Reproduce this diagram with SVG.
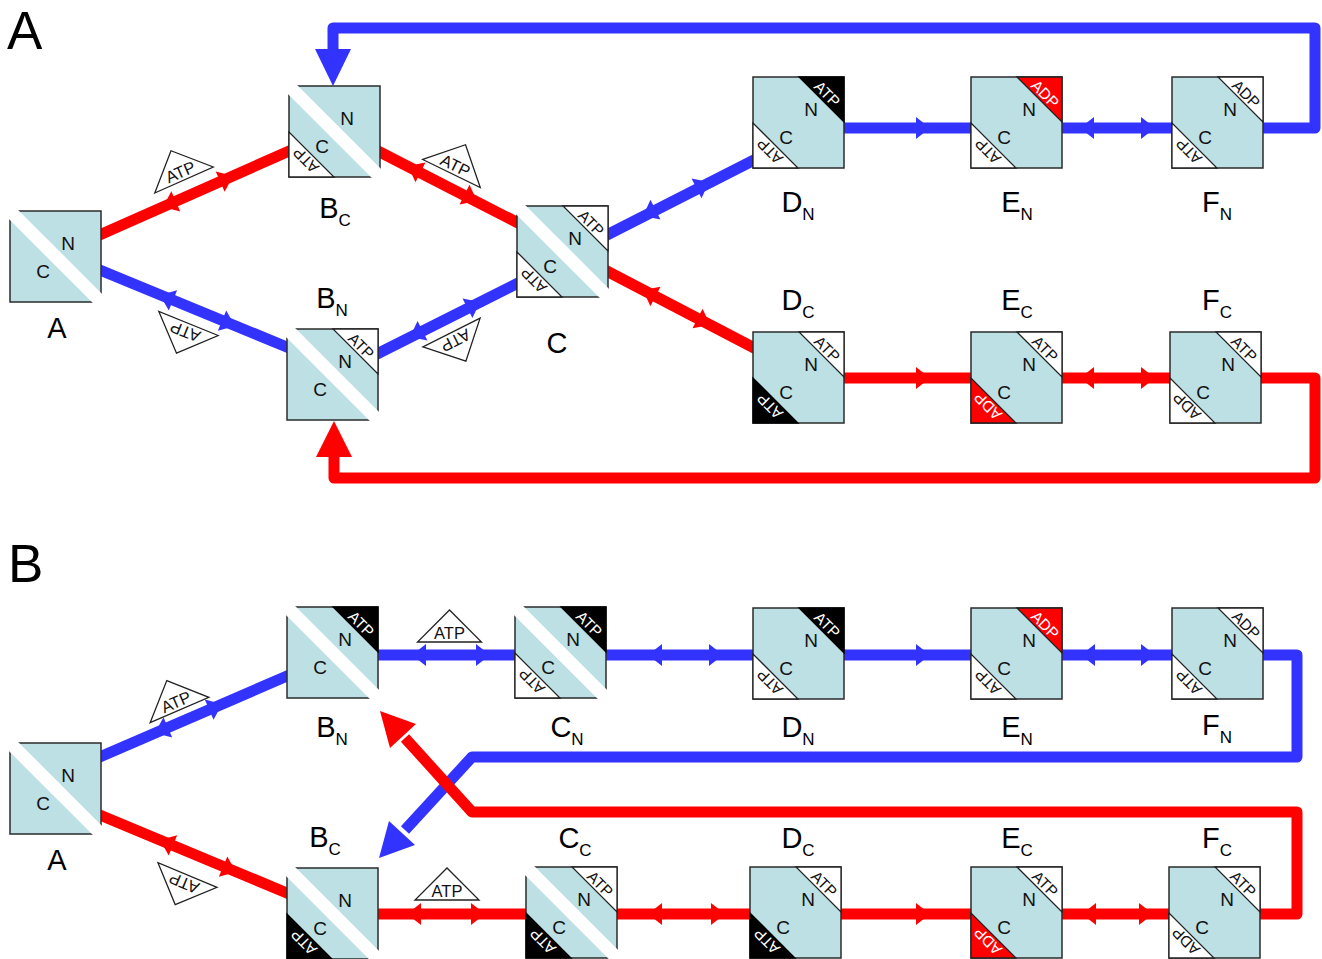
<svg xmlns="http://www.w3.org/2000/svg" xmlns:xlink="http://www.w3.org/1999/xlink" width="1322" height="959" viewBox="0 0 1322 959">
<style>
text{font-family:"Liberation Sans",Arial,sans-serif}
.sq{fill:#bde0e4;stroke:#2b2b2b;stroke-width:1.5}
.stripe{stroke:#fff;stroke-width:13}
.cw{fill:#fff;stroke:#222;stroke-width:1.3}
.ck{fill:#000;stroke:#000;stroke-width:1.3}
.cr{fill:#ff0000;stroke:#222;stroke-width:1.3}
.nl{font-size:19px;text-anchor:middle;fill:#111}
.ct{font-size:15.5px;text-anchor:middle;fill:#111}
.ctw{font-size:15.5px;text-anchor:middle;fill:#fff}
.lbl{font-size:29px;text-anchor:middle;fill:#000}
.sub{font-size:17px}
.pl{font-size:53px;fill:#000}
.bl{stroke:#3333ff;fill:none;stroke-width:11;stroke-linejoin:round}
.rd{stroke:#ff0000;fill:none;stroke-width:11;stroke-linejoin:round}
.bf{fill:#3333ff}
.rf{fill:#ff0000}
.tri{fill:#fff;stroke:#222;stroke-width:1.3}
.tt{font-size:16.5px;text-anchor:middle;fill:#111}
</style>
<defs>
<rect id="sq" class="sq" x="0" y="0" width="91" height="91"/>
<line id="stripe" class="stripe" x1="-2" y1="-2" x2="93" y2="93"/>
<polygon id="urW" class="cw" points="46,0 91,0 91,45"/>
<polygon id="urK" class="ck" points="46,0 91,0 91,45"/>
<polygon id="urR" class="cr" points="46,0 91,0 91,45"/>
<polygon id="llW" class="cw" points="0,46 0,91 45,91"/>
<polygon id="llK" class="ck" points="0,46 0,91 45,91"/>
<polygon id="llR" class="cr" points="0,46 0,91 45,91"/>
<polygon id="ah" points="0,0 -14,-11 -14,11"/>
<polygon id="tri" class="tri" points="-32,0 32,0 0,-32"/>
</defs>

<text class="pl" x="7" y="49">A</text>
<text class="pl" x="8" y="582">B</text>

<g id="connectors">
<!-- Panel A -->
<line class="rd" x1="95" y1="237" x2="296" y2="148"/>
<line class="bl" x1="95" y1="268" x2="294" y2="350"/>
<line class="rd" x1="372" y1="148" x2="524" y2="226"/>
<line class="bl" x1="371" y1="357" x2="524" y2="280"/>
<line class="bl" x1="601" y1="238" x2="760" y2="157"/>
<line class="rd" x1="601" y1="268" x2="760" y2="351"/>
<line class="bl" x1="840" y1="128" x2="975" y2="128"/>
<line class="bl" x1="1058" y1="128" x2="1176" y2="128"/>
<line class="rd" x1="840" y1="378" x2="975" y2="378"/>
<line class="rd" x1="1058" y1="378" x2="1174" y2="378"/>
<path class="bl" d="M1258,128 H1315 V28 H333 V54"/>
<polygon class="bf" points="315,49 351,49 333,86"/>
<path class="rd" d="M1257,378 H1315 V478 H334 V454"/>
<polygon class="rf" points="316,457 352,457 334,421"/>
<!-- Panel B -->
<line class="bl" x1="95" y1="759" x2="294" y2="673"/>
<line class="rd" x1="95" y1="813" x2="294" y2="896"/>
<line class="bl" x1="375" y1="655" x2="519" y2="655"/>
<line class="bl" x1="603" y1="655" x2="757" y2="655"/>
<line class="bl" x1="840" y1="655" x2="975" y2="655"/>
<line class="bl" x1="1058" y1="655" x2="1176" y2="655"/>
<line class="rd" x1="375" y1="914" x2="530" y2="914"/>
<line class="rd" x1="613" y1="914" x2="754" y2="914"/>
<line class="rd" x1="838" y1="914" x2="975" y2="914"/>
<line class="rd" x1="1058" y1="914" x2="1173" y2="914"/>
<path class="bl" d="M1258,655 H1297 V757 H472 L405,830"/>
<polygon class="bf" points="379,858 415,845 389,821"/>
<path class="rd" d="M1255,914 H1297 V812 H472 L405,738"/>
<polygon class="rf" points="380,711 416,724 390,748"/>
<!-- small arrowheads -->
<use xlink:href="#ah" class="rf" transform="translate(163,207) rotate(156.1)"/>
<use xlink:href="#ah" class="rf" transform="translate(233,176) rotate(-23.9)"/>
<use xlink:href="#ah" class="bf" transform="translate(160,295) rotate(202.3)"/>
<use xlink:href="#ah" class="bf" transform="translate(235,326) rotate(22.3)"/>
<use xlink:href="#ah" class="rf" transform="translate(408,166) rotate(206.9)"/>
<use xlink:href="#ah" class="rf" transform="translate(477,201) rotate(26.9)"/>
<use xlink:href="#ah" class="bf" transform="translate(410,337) rotate(153.3)"/>
<use xlink:href="#ah" class="bf" transform="translate(480,302) rotate(-26.7)"/>
<use xlink:href="#ah" class="bf" transform="translate(643,216) rotate(153)"/>
<use xlink:href="#ah" class="bf" transform="translate(709,182) rotate(-27)"/>
<use xlink:href="#ah" class="rf" transform="translate(643,290) rotate(207.3)"/>
<use xlink:href="#ah" class="rf" transform="translate(710,325) rotate(27.3)"/>
<use xlink:href="#ah" class="bf" transform="translate(930,128)"/>
<use xlink:href="#ah" class="bf" transform="translate(1080,128) rotate(180)"/>
<use xlink:href="#ah" class="bf" transform="translate(1155,128)"/>
<use xlink:href="#ah" class="rf" transform="translate(930,378)"/>
<use xlink:href="#ah" class="rf" transform="translate(1080,378) rotate(180)"/>
<use xlink:href="#ah" class="rf" transform="translate(1155,378)"/>
<use xlink:href="#ah" class="bf" transform="translate(155,733) rotate(156.6)"/>
<use xlink:href="#ah" class="bf" transform="translate(222,704) rotate(-23.4)"/>
<use xlink:href="#ah" class="rf" transform="translate(160,840) rotate(202.6)"/>
<use xlink:href="#ah" class="rf" transform="translate(236,872) rotate(22.6)"/>
<use xlink:href="#ah" class="bf" transform="translate(412,655) rotate(180)"/>
<use xlink:href="#ah" class="bf" transform="translate(490,655)"/>
<use xlink:href="#ah" class="bf" transform="translate(648,655) rotate(180)"/>
<use xlink:href="#ah" class="bf" transform="translate(723,655)"/>
<use xlink:href="#ah" class="bf" transform="translate(930,655)"/>
<use xlink:href="#ah" class="bf" transform="translate(1081,655) rotate(180)"/>
<use xlink:href="#ah" class="bf" transform="translate(1155,655)"/>
<use xlink:href="#ah" class="rf" transform="translate(407,914) rotate(180)"/>
<use xlink:href="#ah" class="rf" transform="translate(485,914)"/>
<use xlink:href="#ah" class="rf" transform="translate(648,914) rotate(180)"/>
<use xlink:href="#ah" class="rf" transform="translate(725,914)"/>
<use xlink:href="#ah" class="rf" transform="translate(930,914)"/>
<use xlink:href="#ah" class="rf" transform="translate(1082,914) rotate(180)"/>
<use xlink:href="#ah" class="rf" transform="translate(1153,914)"/>
</g>

<g id="connector-labels">
<g transform="translate(184,180) rotate(-24)"><use xlink:href="#tri"/><text class="tt" x="0" y="-3">ATP</text></g>
<g transform="translate(451.5,173.5) rotate(26)"><use xlink:href="#tri"/><text class="tt" x="0" y="-3">ATP</text></g>
<g transform="translate(188.5,323.5) rotate(202)"><use xlink:href="#tri"/><text class="tt" x="0" y="-3">ATP</text></g>
<g transform="translate(451.5,332.5) rotate(153.3)"><use xlink:href="#tri"/><text class="tt" x="0" y="-3">ATP</text></g>
<g transform="translate(179.5,710) rotate(-23.4)"><use xlink:href="#tri"/><text class="tt" x="0" y="-3">ATP</text></g>
<g transform="translate(187.5,875) rotate(202.6)"><use xlink:href="#tri"/><text class="tt" x="0" y="-3">ATP</text></g>
<g transform="translate(449.5,642)"><use xlink:href="#tri"/><text class="tt" x="0" y="-3">ATP</text></g>
<g transform="translate(447,900)"><use xlink:href="#tri"/><text class="tt" x="0" y="-3">ATP</text></g>
</g>

<!-- Panel A nodes -->
<g id="a-A" transform="translate(10,211)">
<use xlink:href="#sq"/><use xlink:href="#stripe"/>
<text class="nl" x="58" y="39">N</text><text class="nl" x="33" y="67">C</text>
</g>
<g id="a-BC" transform="translate(289,86)">
<use xlink:href="#sq"/><use xlink:href="#llW"/><use xlink:href="#stripe"/>
<text class="ct" transform="translate(16.8,74.2) rotate(225)" y="5.5">ATP</text>
<text class="nl" x="58" y="39">N</text><text class="nl" x="33" y="67">C</text>
</g>
<g id="a-BN" transform="translate(287,329)">
<use xlink:href="#sq"/><use xlink:href="#urW"/><use xlink:href="#stripe"/>
<text class="ct" transform="translate(74.2,16.8) rotate(45)" y="5.5">ATP</text>
<text class="nl" x="58" y="39">N</text><text class="nl" x="33" y="67">C</text>
</g>
<g id="a-C" transform="translate(517,206)">
<use xlink:href="#sq"/><use xlink:href="#urW"/><use xlink:href="#llW"/><use xlink:href="#stripe"/>
<text class="ct" transform="translate(74.2,16.8) rotate(45)" y="5.5">ATP</text>
<text class="ct" transform="translate(16.8,74.2) rotate(225)" y="5.5">ATP</text>
<text class="nl" x="58" y="39">N</text><text class="nl" x="33" y="67">C</text>
</g>
<g id="a-DN" transform="translate(753,77)">
<use xlink:href="#sq"/><use xlink:href="#urK"/><use xlink:href="#llW"/>
<text class="ctw" transform="translate(74.2,16.8) rotate(45)" y="5.5">ATP</text>
<text class="ct" transform="translate(16.8,74.2) rotate(225)" y="5.5">ATP</text>
<text class="nl" x="58" y="39">N</text><text class="nl" x="33" y="67">C</text>
</g>
<g id="a-EN" transform="translate(971,77)">
<use xlink:href="#sq"/><use xlink:href="#urR"/><use xlink:href="#llW"/>
<text class="ctw" transform="translate(74.2,16.8) rotate(45)" y="5.5">ADP</text>
<text class="ct" transform="translate(16.8,74.2) rotate(225)" y="5.5">ATP</text>
<text class="nl" x="58" y="39">N</text><text class="nl" x="33" y="67">C</text>
</g>
<g id="a-FN" transform="translate(1172,77)">
<use xlink:href="#sq"/><use xlink:href="#urW"/><use xlink:href="#llW"/>
<text class="ct" transform="translate(74.2,16.8) rotate(45)" y="5.5">ADP</text>
<text class="ct" transform="translate(16.8,74.2) rotate(225)" y="5.5">ATP</text>
<text class="nl" x="58" y="39">N</text><text class="nl" x="33" y="67">C</text>
</g>
<g id="a-DC" transform="translate(753,332)">
<use xlink:href="#sq"/><use xlink:href="#urW"/><use xlink:href="#llK"/>
<text class="ct" transform="translate(74.2,16.8) rotate(45)" y="5.5">ATP</text>
<text class="ctw" transform="translate(16.8,74.2) rotate(225)" y="5.5">ATP</text>
<text class="nl" x="58" y="39">N</text><text class="nl" x="33" y="67">C</text>
</g>
<g id="a-EC" transform="translate(971,332)">
<use xlink:href="#sq"/><use xlink:href="#urW"/><use xlink:href="#llR"/>
<text class="ct" transform="translate(74.2,16.8) rotate(45)" y="5.5">ATP</text>
<text class="ctw" transform="translate(16.8,74.2) rotate(225)" y="5.5">ADP</text>
<text class="nl" x="58" y="39">N</text><text class="nl" x="33" y="67">C</text>
</g>
<g id="a-FC" transform="translate(1170,332)">
<use xlink:href="#sq"/><use xlink:href="#urW"/><use xlink:href="#llW"/>
<text class="ct" transform="translate(74.2,16.8) rotate(45)" y="5.5">ATP</text>
<text class="ct" transform="translate(16.8,74.2) rotate(225)" y="5.5">ADP</text>
<text class="nl" x="58" y="39">N</text><text class="nl" x="33" y="67">C</text>
</g>

<!-- Panel B nodes -->
<g id="b-A" transform="translate(10,743)">
<use xlink:href="#sq"/><use xlink:href="#stripe"/>
<text class="nl" x="58" y="39">N</text><text class="nl" x="33" y="67">C</text>
</g>
<g id="b-BN" transform="translate(287,607)">
<use xlink:href="#sq"/><use xlink:href="#urK"/><use xlink:href="#stripe"/>
<text class="ctw" transform="translate(74.2,16.8) rotate(45)" y="5.5">ATP</text>
<text class="nl" x="58" y="39">N</text><text class="nl" x="33" y="67">C</text>
</g>
<g id="b-BC" transform="translate(287,868)">
<use xlink:href="#sq"/><use xlink:href="#llK"/><use xlink:href="#stripe"/>
<text class="ctw" transform="translate(16.8,74.2) rotate(225)" y="5.5">ATP</text>
<text class="nl" x="58" y="39">N</text><text class="nl" x="33" y="67">C</text>
</g>
<g id="b-CN" transform="translate(515,607)">
<use xlink:href="#sq"/><use xlink:href="#urK"/><use xlink:href="#llW"/><use xlink:href="#stripe"/>
<text class="ctw" transform="translate(74.2,16.8) rotate(45)" y="5.5">ATP</text>
<text class="ct" transform="translate(16.8,74.2) rotate(225)" y="5.5">ATP</text>
<text class="nl" x="58" y="39">N</text><text class="nl" x="33" y="67">C</text>
</g>
<g id="b-DN" transform="translate(753,608)">
<use xlink:href="#sq"/><use xlink:href="#urK"/><use xlink:href="#llW"/>
<text class="ctw" transform="translate(74.2,16.8) rotate(45)" y="5.5">ATP</text>
<text class="ct" transform="translate(16.8,74.2) rotate(225)" y="5.5">ATP</text>
<text class="nl" x="58" y="39">N</text><text class="nl" x="33" y="67">C</text>
</g>
<g id="b-EN" transform="translate(971,608)">
<use xlink:href="#sq"/><use xlink:href="#urR"/><use xlink:href="#llW"/>
<text class="ctw" transform="translate(74.2,16.8) rotate(45)" y="5.5">ADP</text>
<text class="ct" transform="translate(16.8,74.2) rotate(225)" y="5.5">ATP</text>
<text class="nl" x="58" y="39">N</text><text class="nl" x="33" y="67">C</text>
</g>
<g id="b-FN" transform="translate(1172,608)">
<use xlink:href="#sq"/><use xlink:href="#urW"/><use xlink:href="#llW"/>
<text class="ct" transform="translate(74.2,16.8) rotate(45)" y="5.5">ADP</text>
<text class="ct" transform="translate(16.8,74.2) rotate(225)" y="5.5">ATP</text>
<text class="nl" x="58" y="39">N</text><text class="nl" x="33" y="67">C</text>
</g>
<g id="b-CC" transform="translate(526,867)">
<use xlink:href="#sq"/><use xlink:href="#urW"/><use xlink:href="#llK"/><use xlink:href="#stripe"/>
<text class="ct" transform="translate(74.2,16.8) rotate(45)" y="5.5">ATP</text>
<text class="ctw" transform="translate(16.8,74.2) rotate(225)" y="5.5">ATP</text>
<text class="nl" x="58" y="39">N</text><text class="nl" x="33" y="67">C</text>
</g>
<g id="b-DC" transform="translate(750,867)">
<use xlink:href="#sq"/><use xlink:href="#urW"/><use xlink:href="#llK"/>
<text class="ct" transform="translate(74.2,16.8) rotate(45)" y="5.5">ATP</text>
<text class="ctw" transform="translate(16.8,74.2) rotate(225)" y="5.5">ATP</text>
<text class="nl" x="58" y="39">N</text><text class="nl" x="33" y="67">C</text>
</g>
<g id="b-EC" transform="translate(971,867)">
<use xlink:href="#sq"/><use xlink:href="#urW"/><use xlink:href="#llR"/>
<text class="ct" transform="translate(74.2,16.8) rotate(45)" y="5.5">ATP</text>
<text class="ctw" transform="translate(16.8,74.2) rotate(225)" y="5.5">ADP</text>
<text class="nl" x="58" y="39">N</text><text class="nl" x="33" y="67">C</text>
</g>
<g id="b-FC" transform="translate(1169,867)">
<use xlink:href="#sq"/><use xlink:href="#urW"/><use xlink:href="#llW"/>
<text class="ct" transform="translate(74.2,16.8) rotate(45)" y="5.5">ATP</text>
<text class="ct" transform="translate(16.8,74.2) rotate(225)" y="5.5">ADP</text>
<text class="nl" x="58" y="39">N</text><text class="nl" x="33" y="67">C</text>
</g>

<g id="node-labels">
<text class="lbl" x="335" y="218">B<tspan class="sub" dy="8">C</tspan></text>
<text class="lbl" x="57" y="338">A</text>
<text class="lbl" x="332" y="308">B<tspan class="sub" dy="8">N</tspan></text>
<text class="lbl" x="557" y="353">C</text>
<text class="lbl" x="798" y="212">D<tspan class="sub" dy="8">N</tspan></text>
<text class="lbl" x="1017" y="212">E<tspan class="sub" dy="8">N</tspan></text>
<text class="lbl" x="1217" y="212">F<tspan class="sub" dy="8">N</tspan></text>
<text class="lbl" x="798" y="310">D<tspan class="sub" dy="8">C</tspan></text>
<text class="lbl" x="1017" y="310">E<tspan class="sub" dy="8">C</tspan></text>
<text class="lbl" x="1217" y="310">F<tspan class="sub" dy="8">C</tspan></text>
<text class="lbl" x="57" y="870">A</text>
<text class="lbl" x="332" y="737">B<tspan class="sub" dy="8">N</tspan></text>
<text class="lbl" x="325" y="847">B<tspan class="sub" dy="8">C</tspan></text>
<text class="lbl" x="567" y="737">C<tspan class="sub" dy="8">N</tspan></text>
<text class="lbl" x="798" y="737">D<tspan class="sub" dy="8">N</tspan></text>
<text class="lbl" x="1017" y="737">E<tspan class="sub" dy="8">N</tspan></text>
<text class="lbl" x="1217" y="735">F<tspan class="sub" dy="8">N</tspan></text>
<text class="lbl" x="575" y="848">C<tspan class="sub" dy="8">C</tspan></text>
<text class="lbl" x="798" y="848">D<tspan class="sub" dy="8">C</tspan></text>
<text class="lbl" x="1017" y="848">E<tspan class="sub" dy="8">C</tspan></text>
<text class="lbl" x="1217" y="848">F<tspan class="sub" dy="8">C</tspan></text>
</g>
</svg>
